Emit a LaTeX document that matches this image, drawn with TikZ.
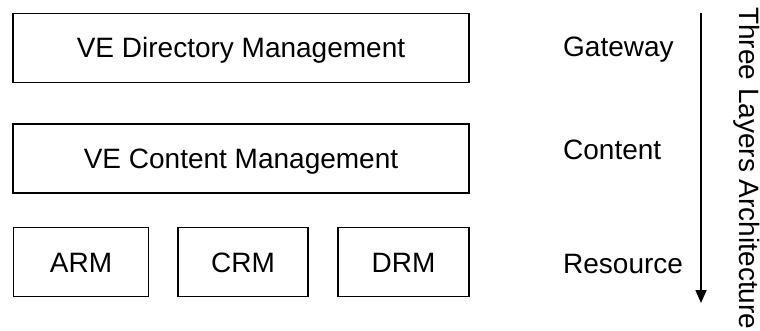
\documentclass[tikz,border=0pt]{standalone}
\usepackage{fontspec}
\setmainfont{Liberation Sans}
\usetikzlibrary{arrows.meta}
\begin{document}
\begin{tikzpicture}[x=1pt,y=-1pt,
  txt/.style={font=\fontsize{28}{33}\selectfont, text height=20pt, text depth=0pt, inner sep=0pt},
  layerbox/.style={txt, draw=black, line width=1.1pt, minimum height=69pt},
  layerlabel/.style={txt, anchor=base west}]
  \fill[white] (0,0) rectangle (760,331);
  \useasboundingbox (0,0) rectangle (760,331);

  % layer boxes
  \node[layerbox, minimum width=456pt] (dir) at (241,48) {VE Directory Management};
  \node[layerbox, minimum width=456pt] (cont) at (241,158.5) {VE Content Management};
  \node[layerbox, minimum width=135pt] (arm) at (81,262) {ARM};
  \node[layerbox, minimum width=130pt] (crm) at (243,262) {CRM};
  \node[layerbox, minimum width=131pt] (drm) at (403.5,262) {DRM};

  % layer names
  \node[layerlabel] (gw) at (563,57) {Gateway};
  \node[layerlabel] (ct) at (563,160) {Content};
  \node[layerlabel] (rs) at (563,273) {Resource};

  % top-to-bottom arrow with caption
  \coordinate (atop) at (701,13);
  \coordinate (abot) at (701,303);
  \draw[line width=1.6pt, -{Triangle[length=13pt,width=11pt]}] (atop) -- (abot);
  \node[layerlabel, rotate=-90] (arch) at (739,7) {Three Layers Architecture};
\end{tikzpicture}
\end{document}
